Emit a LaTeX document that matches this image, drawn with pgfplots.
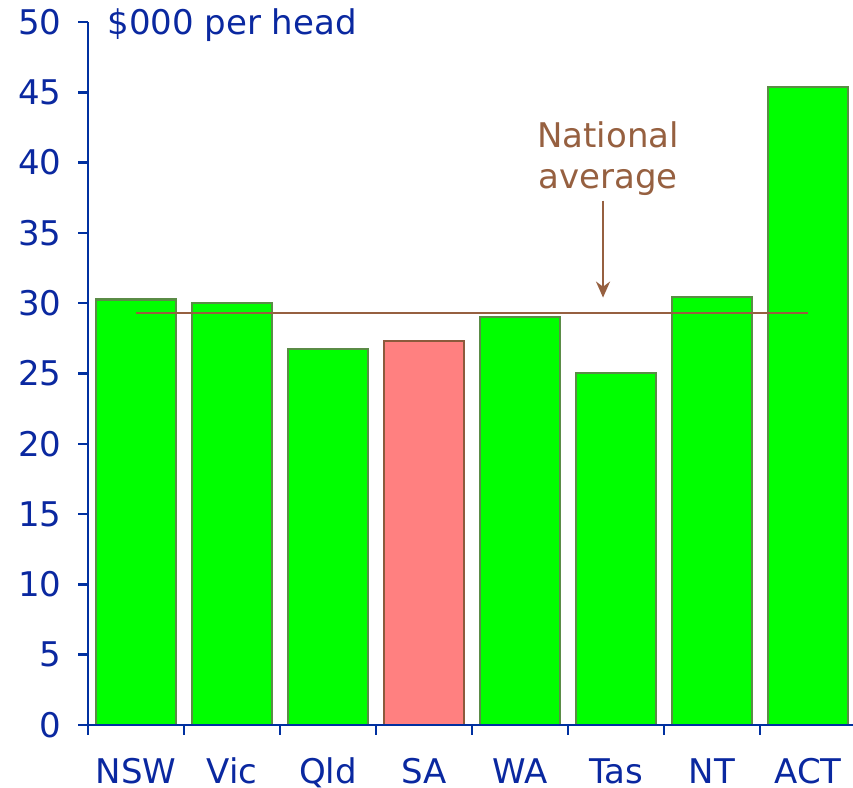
\documentclass[border=0pt]{standalone}
\usepackage{fontspec}
\setmainfont{DejaVu Sans}
\usepackage{pgfplots}
\pgfplotsset{compat=1.18}
\usetikzlibrary{arrows.meta}
\definecolor{txtblue}{RGB}{10,40,160}
\definecolor{axblue}{RGB}{0,48,160}
\definecolor{avgbrown}{RGB}{150,96,64}
\definecolor{barg}{RGB}{0,255,0}
\definecolor{barge}{RGB}{90,140,70}
\definecolor{barp}{RGB}{255,128,128}
\definecolor{barpe}{RGB}{140,90,60}
\newcommand\chfont{\fontsize{17}{20.4}\selectfont}
\begin{document}
\begin{tikzpicture}
\useasboundingbox (0,0) rectangle (426.5pt,394pt);
\begin{axis}[
  at={(44pt,31.5pt)}, anchor=south west,
  scale only axis, width=382.5pt, height=351.5pt,
  xmin=-0.5, xmax=7.46875, ymin=0, ymax=50,
  axis x line*=bottom, axis y line*=left,
  axis line style={axblue, line width=1.2pt},
  axis on top,
  ytick={0,5,...,50},
  xtick={0,...,7}, xticklabels={NSW,Vic,Qld,SA,WA,Tas,NT,ACT},
  major x tick style={draw=none},
  minor xtick={-0.5,0.5,...,6.5},
  tick align=outside,
  major tick length=5pt, minor tick length=5pt,
  tick style={axblue, line width=1.2pt},
  yticklabel style={font=\chfont, text=txtblue, anchor=east, inner sep=0pt, xshift=-8pt},
  xticklabel style={font=\chfont, text=txtblue, anchor=base, inner sep=0pt, yshift=-24.5pt},
  /pgf/number format/assume math mode=true,
  clip=false,
]
\addplot[ybar, bar width=40pt, bar shift=0pt, fill=barg, draw=barge, line width=1.2pt]
  coordinates {(0,30.27)(1,30.0)(2,26.74)(4,29.02)(5,25.04)(6,30.44)(7,45.38)};
\addplot[ybar, bar width=40pt, bar shift=0pt, fill=barp, draw=barpe, line width=1.2pt]
  coordinates {(3,27.31)};
\addplot[avgbrown, line width=1.1pt, no markers] coordinates {(0,29.3)(7,29.3)};
\node[font=\chfont, text=txtblue, anchor=base west, inner sep=0pt] at ([xshift=9.5pt,yshift=-6pt]rel axis cs:0,1) {\$000 per head};
\node[font=\chfont, text=avgbrown, anchor=base, inner sep=0pt] at (axis cs:4.917,41.04) {National};
\node[font=\chfont, text=avgbrown, anchor=base, inner sep=0pt] at (axis cs:4.917,38.19) {average};
\draw[avgbrown, line width=1.1pt, -{Stealth[length=8pt,width=7pt]}] (axis cs:4.865,37.3) -- (axis cs:4.865,30.4);
\end{axis}
\end{tikzpicture}
\end{document}
